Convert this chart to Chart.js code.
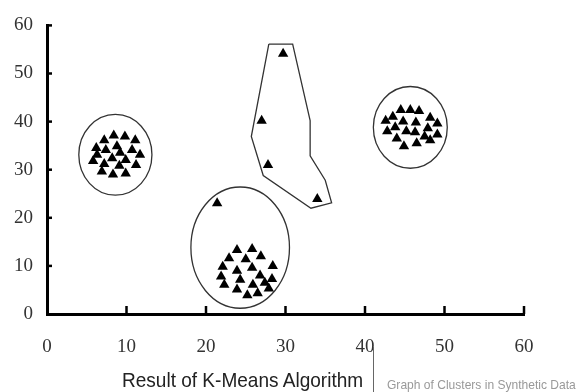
<!DOCTYPE html>
<html>
<head>
<meta charset="utf-8">
<script src="https://cdn.jsdelivr.net/npm/chart.js@4.4.0/dist/chart.umd.min.js"></script>
<style>
  body { margin: 0; background: #fff; }
  #wrap { position: relative; width: 587px; height: 392px; }
  .caption { position: absolute; white-space: nowrap; line-height: 1; transform-origin: left top; }
  #capMain { left: 122px; top: 368px; font: 21px "Liberation Sans", Arial, sans-serif; color: #222; }
  #capSub { left: 387px; top: 377px; font: 13px "Liberation Sans", Arial, sans-serif; color: #999; }
  #capRule { position: absolute; left: 373px; top: 347px; width: 1px; height: 45px; background: #666; }
</style>
</head>
<body>
<div id="wrap">
  <canvas id="chartClusters"></canvas>
  <div class="caption" id="capMain" data-w="241">Result of K-Means Algorithm</div>
  <div id="capRule"></div>
  <div class="caption" id="capSub" data-w="189">Graph of Clusters in Synthetic Data</div>
</div>
<script>
// ejes
const xTicks = [0, 10, 20, 30, 40, 50, 60];
const yTicks = [0, 10, 20, 30, 40, 50, 60];

// grupo izquierdo
const clusterLeft = [
  [8.4, 37.1], [9.8, 36.9], [11.1, 36.1], [7.2, 36.1], [8.8, 34.9],
  [6.2, 34.5], [7.4, 34.1], [10.7, 34.1], [9.2, 33.5], [11.7, 33.1],
  [6.3, 33.1], [8.2, 32.4], [9.9, 32.0], [5.8, 31.8], [7.2, 31.2],
  [9.1, 30.8], [11.2, 31.0], [6.9, 29.6], [8.3, 29.0], [9.9, 29.2]
];

// grupo de abajo (incluye el punto suelto de arriba)
const clusterBottom = [
  [21.4, 23.0],
  [23.9, 13.3], [25.8, 13.5], [26.9, 12.0], [22.9, 11.6], [25.0, 11.4],
  [28.4, 10.0], [22.1, 9.8], [25.8, 9.6], [23.9, 9.0], [21.9, 7.8],
  [26.8, 8.0], [28.3, 7.3], [24.3, 7.1], [22.3, 6.1], [25.9, 6.1],
  [27.4, 6.5], [27.9, 5.3], [23.9, 5.1], [25.2, 3.9], [26.5, 4.3]
];

// grupo derecho
const clusterRight = [
  [44.5, 42.4], [45.7, 42.4], [46.8, 42.2], [43.5, 41.0], [48.2, 40.8],
  [42.6, 40.2], [44.8, 40.0], [46.4, 39.8], [49.1, 39.6], [43.8, 38.8],
  [47.9, 38.6], [42.8, 38.0], [45.2, 38.0], [46.3, 37.8], [49.1, 37.3],
  [44.0, 36.5], [47.5, 36.9], [48.2, 36.1], [44.9, 34.9], [46.5, 35.5]
];

// grupo disperso (dentro del polígono)
const clusterSparse = [[29.7, 54.1], [27.0, 40.2], [27.8, 31.0], [34.0, 23.9]];

// contorno del polígono
const hullSparse = [
  [27.9, 56.1], [30.9, 56.1], [33.1, 40.2], [33.1, 32.9], [35.0, 27.8],
  [35.8, 23.1], [33.2, 22.0], [27.2, 28.8], [25.7, 36.9], [27.9, 56.1]
];

// elipses: centro y radios (en unidades de datos)
const ellipseCenters = [[8.6, 33.1], [24.3, 13.8], [45.7, 38.8]];
const ellipseRadii = [[4.6, 8.4], [6.2, 12.6], [4.65, 8.5]];

const toPts = arr => arr.map(p => ({ x: p[0], y: p[1] }));

// dibuja las elipses con las escalas del gráfico
const ellipsePlugin = {
  id: 'ellipses',
  beforeDatasetsDraw(chart) {
    const { ctx, scales: { x, y } } = chart;
    ctx.save();
    ctx.strokeStyle = '#333';
    ctx.lineWidth = 1.3;
    ellipseCenters.forEach((c, i) => {
      const cx = x.getPixelForValue(c[0]);
      const cy = y.getPixelForValue(c[1]);
      const rx = x.getPixelForValue(c[0] + ellipseRadii[i][0]) - cx;
      const ry = cy - y.getPixelForValue(c[1] + ellipseRadii[i][1]);
      ctx.beginPath();
      ctx.ellipse(cx, cy, rx, ry, 0, 0, Math.PI * 2);
      ctx.stroke();
    });
    ctx.restore();
  }
};

// marcas de los ejes hacia dentro
const innerTicks = {
  id: 'innerTicks',
  afterDraw(chart) {
    const { ctx, scales: { x, y }, chartArea: a } = chart;
    ctx.save();
    ctx.strokeStyle = '#000';
    ctx.lineWidth = 2.5;
    x.ticks.forEach(t => {
      if (t.value === 0) return;
      const px = x.getPixelForValue(t.value);
      ctx.beginPath();
      ctx.moveTo(px, a.bottom);
      ctx.lineTo(px, a.bottom - 8);
      ctx.stroke();
    });
    y.ticks.forEach(t => {
      if (t.value === 0) return;
      const py = y.getPixelForValue(t.value);
      ctx.beginPath();
      ctx.moveTo(a.left, py);
      ctx.lineTo(a.left + 5, py);
      ctx.stroke();
    });
    ctx.restore();
  }
};

const tickFont = { family: '"Liberation Serif", "DejaVu Serif", serif', size: 19 };

function makeScale(ticks, extra) {
  return {
    type: 'linear',
    min: ticks[0],
    max: ticks[ticks.length - 1],
    afterBuildTicks: s => { s.ticks = ticks.map(v => ({ value: v })); },
    grid: { drawOnChartArea: false, drawTicks: false },
    border: { color: '#000', width: 3 },
    ticks: { color: '#333', font: tickFont, ...extra }
  };
}

const scatterStyle = {
  pointStyle: 'triangle',
  pointRadius: 6,
  backgroundColor: '#000',
  borderColor: '#000',
  borderWidth: 0
};

new Chart(document.getElementById('chartClusters').getContext('2d'), {
  type: 'scatter',
  data: {
    datasets: [
      {
        data: toPts(hullSparse),
        showLine: true,
        pointRadius: 0,
        borderColor: '#333',
        borderWidth: 1.3,
        fill: false
      },
      { data: toPts(clusterLeft), ...scatterStyle },
      { data: toPts(clusterBottom), ...scatterStyle },
      { data: toPts(clusterRight), ...scatterStyle },
      { data: toPts(clusterSparse), ...scatterStyle }
    ]
  },
  options: {
    responsive: true,
    maintainAspectRatio: false,
    animation: false,
    layout: { padding: { top: 20, right: 63, left: 0, bottom: 0 } },
    plugins: { legend: { display: false }, tooltip: { enabled: false } },
    scales: {
      x: { ...makeScale(xTicks, { padding: 22 }), afterFit: s => { s.height = 78; } },
      y: { ...makeScale(yTicks, { padding: 14 }), afterFit: s => { s.width = 47; } }
    }
  },
  plugins: [ellipsePlugin, innerTicks]
});

// el texto del pie es más estrecho en el original
document.querySelectorAll('.caption').forEach(el => {
  el.style.transform = `scaleX(${el.dataset.w / el.offsetWidth})`;
});
</script>
</body>
</html>
